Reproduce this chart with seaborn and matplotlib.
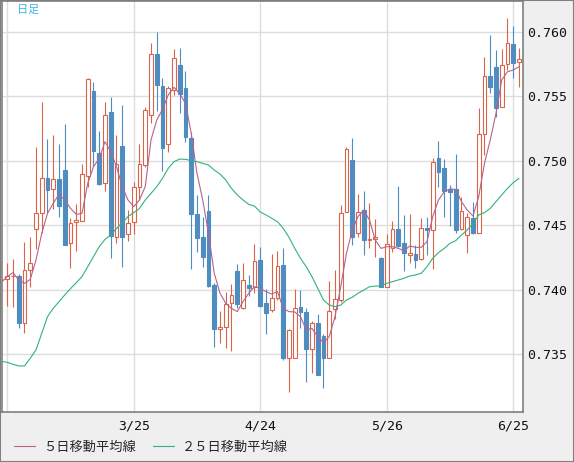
import numpy as np
import pandas as pd
import seaborn as sns
import matplotlib.pyplot as plt
from matplotlib.patches import Rectangle

# daily candles (oldest -> newest)
opens = [0.74081, 0.74105, 0.74107, 0.73745, 0.74151, 0.74474, 0.74592, 0.74864, 0.74778, 0.74856,
         0.74926, 0.74360, 0.74523, 0.74530, 0.74884, 0.75540, 0.75057, 0.74825, 0.75378, 0.74412,
         0.75114, 0.74430, 0.74523, 0.74794, 0.74964, 0.75352, 0.75827, 0.75579, 0.75127, 0.75548,
         0.75742, 0.75564, 0.75176, 0.74585, 0.74407, 0.74608, 0.74037, 0.73694, 0.73709, 0.73900,
         0.74146, 0.73856, 0.74037, 0.74024, 0.74231, 0.73895, 0.73841, 0.73936, 0.74192, 0.73474,
         0.73474, 0.73867, 0.73828, 0.73539, 0.73743, 0.73642, 0.73469, 0.73854, 0.73921, 0.74600,
         0.75006, 0.74437, 0.74616, 0.74383, 0.74396, 0.74249, 0.74024, 0.74321, 0.74471, 0.74363,
         0.74272, 0.74277, 0.74236, 0.74476, 0.74461, 0.75021, 0.74944, 0.74778, 0.74778, 0.74474,
         0.74422, 0.74556, 0.74443, 0.75205, 0.75657, 0.75726, 0.75414, 0.75747, 0.75907, 0.75762]
closes = [0.74107, 0.74110, 0.73745, 0.74151, 0.74205, 0.74592, 0.74864, 0.74776, 0.74856, 0.74652,
          0.74350, 0.74515, 0.74541, 0.74895, 0.75631, 0.75078, 0.74822, 0.75352, 0.74414, 0.74972,
          0.74412, 0.74515, 0.74794, 0.74972, 0.75390, 0.75827, 0.75589, 0.75101, 0.75561, 0.75793,
          0.75520, 0.75181, 0.74585, 0.74404, 0.74257, 0.74032, 0.73694, 0.73714, 0.73890, 0.73960,
          0.73887, 0.74073, 0.74017, 0.74221, 0.73877, 0.73823, 0.73936, 0.74182, 0.73474, 0.73689,
          0.73856, 0.73831, 0.73544, 0.73740, 0.73342, 0.73474, 0.73833, 0.73926, 0.74592, 0.75088,
          0.74412, 0.74600, 0.74388, 0.74391, 0.74409, 0.74024, 0.74352, 0.74468, 0.74342, 0.74288,
          0.74283, 0.74233, 0.74476, 0.74466, 0.74988, 0.74915, 0.74768, 0.74760, 0.74463, 0.74611,
          0.74561, 0.74437, 0.75205, 0.75654, 0.75574, 0.75411, 0.75739, 0.75912, 0.75760, 0.75786]
highs = [0.74205, 0.74239, 0.74122, 0.74370, 0.74409, 0.75106, 0.75455, 0.75168, 0.75199, 0.75130,
         0.75285, 0.74554, 0.74665, 0.74975, 0.75641, 0.75610, 0.75228, 0.75455, 0.75496, 0.75199,
         0.75432, 0.74618, 0.74838, 0.75127, 0.75414, 0.75912, 0.75997, 0.75641, 0.75579, 0.75863,
         0.75871, 0.75695, 0.75225, 0.74735, 0.74564, 0.74735, 0.74055, 0.73836, 0.73980, 0.74045,
         0.74200, 0.74205, 0.74115, 0.74355, 0.74332, 0.74004, 0.74277, 0.74301, 0.74321, 0.73694,
         0.74006, 0.73998, 0.73856, 0.73761, 0.73815, 0.73655, 0.74068, 0.74153, 0.74657, 0.75109,
         0.75179, 0.74742, 0.74765, 0.74675, 0.74549, 0.74257, 0.74432, 0.74533, 0.74807, 0.74580,
         0.74587, 0.74347, 0.74554, 0.74564, 0.75021, 0.75155, 0.75013, 0.74812, 0.75052, 0.74719,
         0.74592, 0.74683, 0.75406, 0.75804, 0.75977, 0.75858, 0.75866, 0.76106, 0.76044, 0.75871]
lows = [0.73874, 0.73869, 0.73707, 0.73663, 0.74024, 0.74314, 0.74437, 0.74592, 0.74629, 0.74567,
        0.74350, 0.74166, 0.74303, 0.74530, 0.74799, 0.74962, 0.74812, 0.74768, 0.74249, 0.74360,
        0.74179, 0.74376, 0.74430, 0.74696, 0.74954, 0.75290, 0.75388, 0.74923, 0.75070, 0.75509,
        0.75367, 0.75148, 0.74159, 0.74295, 0.74179, 0.74019, 0.73559, 0.73590, 0.73552, 0.73528,
        0.73856, 0.73849, 0.73952, 0.73973, 0.73869, 0.73655, 0.73831, 0.73921, 0.73459, 0.73211,
        0.73469, 0.73701, 0.73288, 0.73353, 0.73342, 0.73237, 0.73469, 0.73771, 0.73908, 0.74600,
        0.74347, 0.74412, 0.74270, 0.74321, 0.74257, 0.74019, 0.74024, 0.74295, 0.74334, 0.74148,
        0.74205, 0.74171, 0.74231, 0.74270, 0.74164, 0.74794, 0.74567, 0.74497, 0.74437, 0.74463,
        0.74283, 0.74432, 0.74437, 0.75044, 0.75527, 0.75341, 0.75414, 0.75703, 0.75644, 0.75574]

# moving averages (first value belongs to the day before the first visible candle)
ma5 = [0.74060, 0.74102, 0.74133, 0.74076, 0.74050, 0.74081, 0.74231, 0.74437, 0.74592, 0.74670, 0.74740,
       0.74696, 0.74631, 0.74585, 0.74592, 0.74825, 0.74954, 0.75019, 0.75148, 0.75070, 0.74954,
       0.74799, 0.74696, 0.74644, 0.74696, 0.74799, 0.75161, 0.75316, 0.75398, 0.75509, 0.75569,
       0.75520, 0.75445, 0.75212, 0.74902, 0.74696, 0.74437, 0.74128, 0.73973, 0.73895, 0.73856,
       0.73831, 0.73908, 0.73973, 0.74024, 0.74011, 0.73986, 0.73967, 0.73986, 0.73856, 0.73831,
       0.73828, 0.73792, 0.73689, 0.73701, 0.73637, 0.73590, 0.73637, 0.73792, 0.74024, 0.74283,
       0.74463, 0.74567, 0.74618, 0.74541, 0.74386, 0.74321, 0.74334, 0.74334, 0.74321, 0.74303,
       0.74339, 0.74329, 0.74329, 0.74373, 0.74567, 0.74696, 0.74760, 0.74781, 0.74778, 0.74683,
       0.74618, 0.74572, 0.74722, 0.74980, 0.75161, 0.75367, 0.75626, 0.75690, 0.75703, 0.75729]
ma25 = [0.73446, 0.73438, 0.73423, 0.73410, 0.73410, 0.73469, 0.73534, 0.73663, 0.73792, 0.73856, 0.73908,
        0.73960, 0.74009, 0.74055, 0.74102, 0.74179, 0.74257, 0.74334, 0.74391, 0.74425, 0.74476,
        0.74520, 0.74567, 0.74598, 0.74631, 0.74696, 0.74747, 0.74799, 0.74864, 0.74941, 0.74993,
        0.75013, 0.75011, 0.75001, 0.74993, 0.74980, 0.74967, 0.74928, 0.74897, 0.74851, 0.74786,
        0.74735, 0.74696, 0.74662, 0.74649, 0.74603, 0.74580, 0.74554, 0.74528, 0.74476, 0.74407,
        0.74321, 0.74244, 0.74179, 0.74102, 0.74011, 0.73921, 0.73882, 0.73869, 0.73882, 0.73921,
        0.73942, 0.73973, 0.73998, 0.74024, 0.74029, 0.74029, 0.74050, 0.74063, 0.74076, 0.74089,
        0.74107, 0.74115, 0.74128, 0.74179, 0.74244, 0.74288, 0.74321, 0.74360, 0.74381, 0.74425,
        0.74463, 0.74515, 0.74580, 0.74598, 0.74631, 0.74683, 0.74735, 0.74786, 0.74830, 0.74864]

tick_days = [0, 22, 44, 66, 88]
tick_labels = ['', '3/25', '4/24', '5/26', '6/25']
y_ticks = [0.735, 0.740, 0.745, 0.750, 0.755, 0.760]

UP = '#d9644a'
DOWN = '#4f8cc0'
C_MA5 = '#b8628c'
C_MA25 = '#2fb37b'

sns.set_style('white')
plt.rcParams['font.family'] = ['DejaVu Sans Mono', 'Noto Sans CJK JP']

df = pd.DataFrame({'o': opens, 'h': highs, 'l': lows, 'c': closes})
df['x'] = np.arange(len(df))
df['up'] = df['c'] >= df['o']
ma = pd.DataFrame({'x': np.arange(-1, len(df)), 'ma5': ma5, 'ma25': ma25})

fig = plt.figure(figsize=(5.74, 4.62), dpi=100, facecolor='#efefef')
ax = fig.add_axes([1.5 / 574, 50 / 462, 521.5 / 574, 411 / 462])
ax.set_facecolor('white')

for is_up, col in [(True, UP), (False, DOWN)]:
    d = df[df['up'] == is_up]
    ax.vlines(d['x'], d['l'], d['h'], color=col, lw=0.8, zorder=2)
    ax.bar(d['x'], (d['c'] - d['o']).abs(), bottom=d[['o', 'c']].min(axis=1), width=0.66,
           facecolor='white' if is_up else col, edgecolor=col, linewidth=0.8, zorder=3)

sns.lineplot(data=ma, x='x', y='ma5', color=C_MA5, lw=0.8, ax=ax, zorder=4, label='５日移動平均線')
sns.lineplot(data=ma, x='x', y='ma25', color=C_MA25, lw=0.8, ax=ax, zorder=4, label='２５日移動平均線')

ax.set_xlim(-1.0, 89.7)
ax.set_ylim(0.73053, 0.76238)
ax.set_xticks(tick_days, tick_labels)
ax.set_yticks(y_ticks, [f'{v:.3f}' for v in y_ticks])
ax.yaxis.tick_right()
ax.tick_params(length=0, labelsize=9.5, colors='#111111')
ax.tick_params(axis='x', pad=5.5)
ax.tick_params(axis='y', pad=3)
ax.grid(True, color='#dddddd', lw=1)
ax.set_axisbelow(True)
ax.set_xlabel('')
ax.set_ylabel('')
for s in ax.spines.values():
    s.set_color('#7f7f7f')
    s.set_linewidth(1.2)

handles, labels = ax.get_legend_handles_labels()
ax.get_legend().remove()
fig.legend(handles, labels, loc='center left', bbox_to_anchor=(14 / 574, 15 / 462), ncol=2,
           frameon=False, borderpad=0, borderaxespad=0, handlelength=1.6, handletextpad=0.6,
           columnspacing=1.3, prop={'family': 'Noto Sans CJK JP', 'size': 9.5})

fig.text(17 / 574, 1 - 10 / 462, '日足', color='#3ab6ea', fontsize=8,
         family='Noto Sans CJK JP', va='center')
fig.patches.append(Rectangle((0, 0), 1, 1, transform=fig.transFigure, fill=False,
                             edgecolor='#7f7f7f', lw=1.5))

fig.savefig('out.png', dpi=100, facecolor=fig.get_facecolor())
